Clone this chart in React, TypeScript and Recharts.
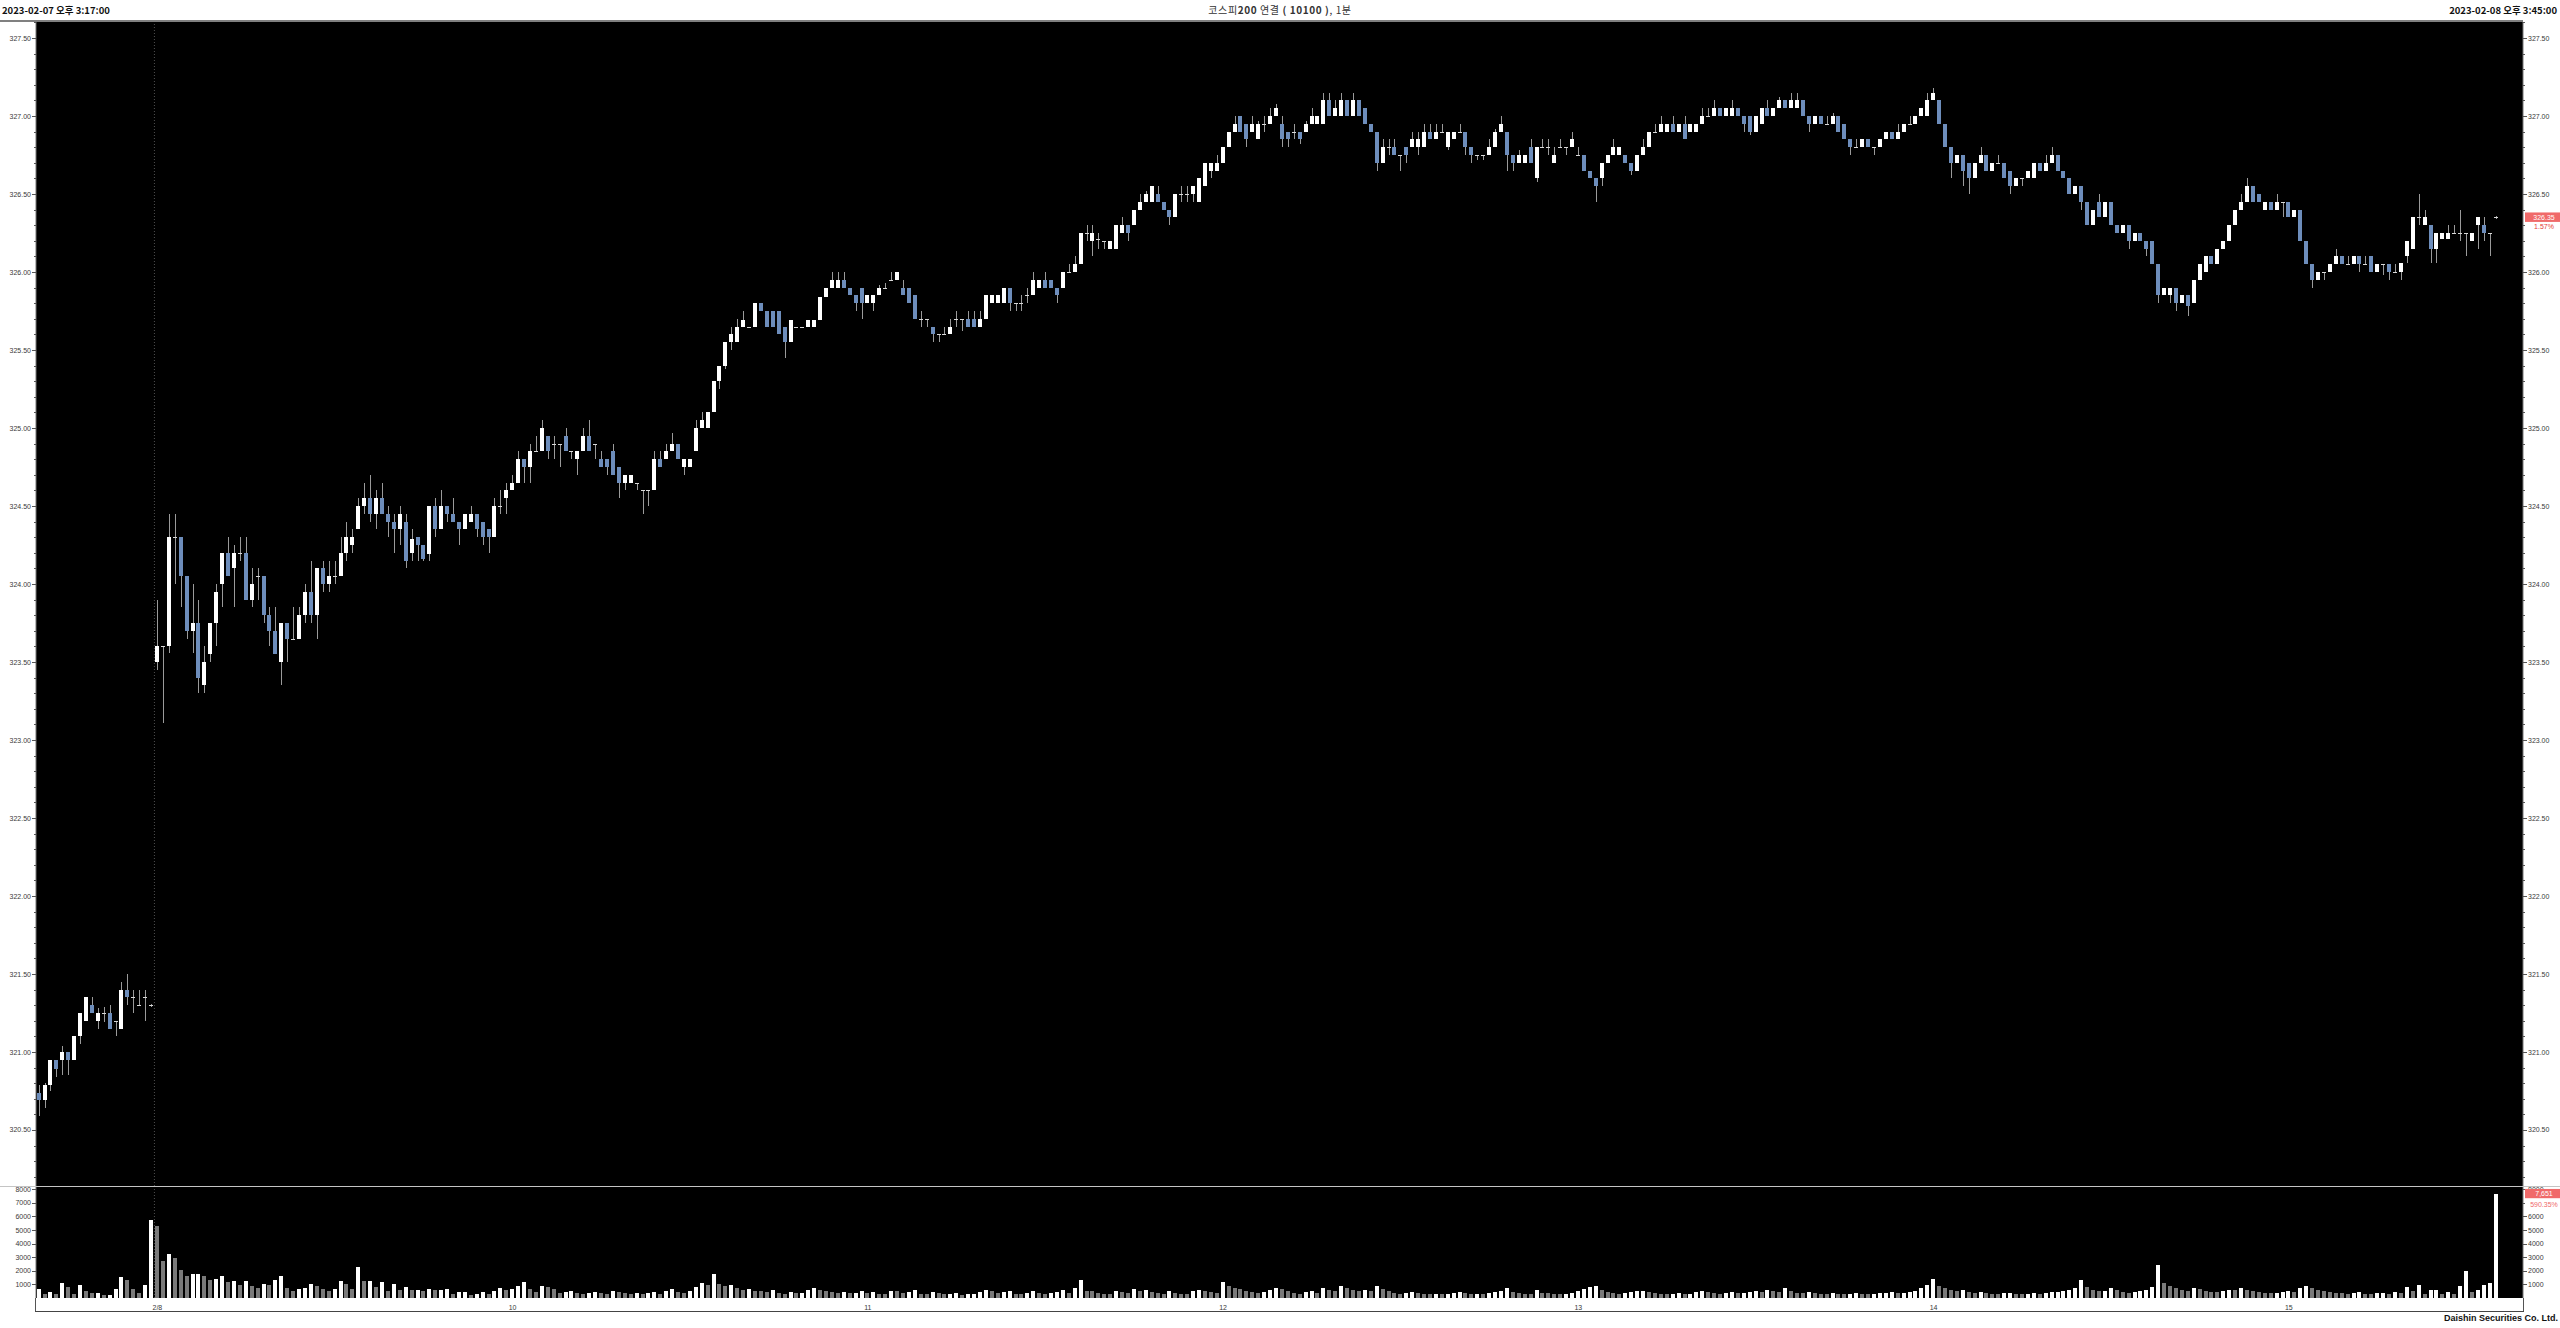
import React from "react";
import { ComposedChart, Bar, XAxis, YAxis, CartesianGrid, ReferenceLine } from "recharts";

type OHLC = [number, number, number, number]; // open, high, low, close

// 2/7 15:17 ~ 15:35 + 15:45 close
const feb07: OHLC[] = [
  [320.74, 320.79, 320.59, 320.69], [320.69, 320.8, 320.64, 320.79], [320.79, 320.95, 320.75, 320.95], [320.95, 320.95, 320.84, 320.89], [320.95, 321.04, 320.85, 321.0],
  [321.0, 321.0, 320.85, 320.95], [320.95, 321.1, 320.95, 321.1], [321.1, 321.25, 321.05, 321.25], [321.2, 321.35, 321.2, 321.35], [321.3, 321.35, 321.25, 321.25],
  [321.2, 321.28, 321.15, 321.25], [321.25, 321.29, 321.19, 321.25], [321.25, 321.3, 321.15, 321.15], [321.2, 321.2, 321.1, 321.2], [321.15, 321.45, 321.15, 321.4],
  [321.4, 321.5, 321.3, 321.35], [321.35, 321.4, 321.25, 321.35], [321.3, 321.4, 321.3, 321.3], [321.35, 321.4, 321.2, 321.35], [321.3, 321.31, 321.29, 321.3],
];
const feb07Vol = [640, 300, 440, 300, 1130, 780, 300, 930, 490, 390, 390, 245, 250, 690, 1570, 1320, 690, 390, 980, 5700];

// 2/8 09:00 ~ 09:59
const feb08h09: OHLC[] = [
  [323.5, 323.9, 323.45, 323.6], [323.6, 323.6, 323.11, 323.6], [323.6, 324.45, 323.56, 324.3], [324.3, 324.45, 324.0, 324.3], [324.3, 324.3, 323.85, 324.05],
  [324.05, 324.05, 323.65, 323.7], [323.7, 324.0, 323.56, 323.75], [323.75, 323.9, 323.3, 323.4], [323.35, 323.6, 323.3, 323.5], [323.55, 323.75, 323.5, 323.75],
  [323.75, 324.0, 323.6, 323.95], [324.0, 324.2, 323.85, 324.2], [324.2, 324.3, 324.05, 324.05], [324.1, 324.25, 323.85, 324.2], [324.2, 324.3, 324.15, 324.2],
  [324.2, 324.3, 323.9, 323.9], [323.9, 324.1, 323.85, 324.0], [324.05, 324.1, 323.9, 324.05], [324.05, 324.05, 323.75, 323.8], [323.8, 323.85, 323.6, 323.7],
  [323.7, 323.85, 323.55, 323.55], [323.5, 323.75, 323.35, 323.75], [323.75, 323.75, 323.5, 323.65], [323.65, 323.85, 323.65, 323.65], [323.65, 323.85, 323.65, 323.8],
  [323.8, 324.0, 323.75, 323.95], [323.95, 324.15, 323.75, 323.8], [323.8, 324.1, 323.65, 324.1], [324.1, 324.15, 323.95, 324.0], [324.0, 324.15, 323.95, 324.05],
  [324.05, 324.15, 324.0, 324.05], [324.05, 324.3, 324.05, 324.2], [324.2, 324.4, 324.15, 324.3], [324.25, 324.35, 324.2, 324.3], [324.35, 324.55, 324.35, 324.5],
  [324.5, 324.65, 324.45, 324.55], [324.55, 324.7, 324.4, 324.45], [324.45, 324.6, 324.35, 324.55], [324.55, 324.65, 324.45, 324.45], [324.45, 324.5, 324.3, 324.4],
  [324.4, 324.45, 324.2, 324.35], [324.35, 324.5, 324.25, 324.45], [324.4, 324.45, 324.1, 324.15], [324.2, 324.35, 324.15, 324.29], [324.3, 324.3, 324.15, 324.25],
  [324.25, 324.25, 324.15, 324.16], [324.19, 324.5, 324.15, 324.5], [324.5, 324.55, 324.3, 324.35], [324.35, 324.6, 324.35, 324.5], [324.5, 324.5, 324.4, 324.45],
  [324.45, 324.55, 324.4, 324.4], [324.4, 324.4, 324.25, 324.35], [324.35, 324.45, 324.35, 324.45], [324.4, 324.5, 324.4, 324.45], [324.45, 324.45, 324.3, 324.35],
  [324.4, 324.4, 324.25, 324.3], [324.35, 324.35, 324.2, 324.3], [324.3, 324.55, 324.3, 324.5], [324.5, 324.6, 324.45, 324.5], [324.55, 324.65, 324.45, 324.6],
];
// 10:00 ~ 10:59
const feb08h10: OHLC[] = [
  [324.6, 324.7, 324.6, 324.65], [324.65, 324.85, 324.65, 324.8], [324.8, 324.8, 324.65, 324.75], [324.75, 324.9, 324.65, 324.85], [324.85, 324.95, 324.85, 324.85],
  [324.85, 325.05, 324.85, 325.0], [324.95, 324.95, 324.8, 324.85], [324.9, 324.95, 324.8, 324.9], [324.9, 324.9, 324.75, 324.9], [324.95, 325.0, 324.85, 324.85],
  [324.85, 324.85, 324.8, 324.85], [324.8, 324.85, 324.7, 324.85], [324.85, 325.0, 324.85, 324.95], [324.95, 325.05, 324.85, 324.85], [324.9, 324.9, 324.8, 324.9],
  [324.8, 324.85, 324.75, 324.75], [324.8, 324.8, 324.7, 324.75], [324.85, 324.9, 324.7, 324.7], [324.75, 324.75, 324.55, 324.65], [324.65, 324.7, 324.6, 324.7],
  [324.65, 324.7, 324.65, 324.7], [324.65, 324.65, 324.6, 324.65], [324.6, 324.6, 324.45, 324.6], [324.6, 324.6, 324.5, 324.6], [324.6, 324.85, 324.6, 324.8],
  [324.8, 324.85, 324.75, 324.75], [324.8, 324.9, 324.8, 324.85], [324.85, 324.97, 324.85, 324.9], [324.9, 324.9, 324.8, 324.8], [324.75, 324.8, 324.7, 324.8],
  [324.75, 324.8, 324.75, 324.8], [324.85, 325.05, 324.85, 325.0], [325.0, 325.1, 325.0, 325.05], [325.0, 325.1, 325.0, 325.1], [325.1, 325.3, 325.1, 325.3],
  [325.3, 325.4, 325.25, 325.4], [325.4, 325.55, 325.38, 325.55], [325.55, 325.65, 325.5, 325.6], [325.55, 325.7, 325.55, 325.65], [325.65, 325.75, 325.65, 325.69],
  [325.65, 325.65, 325.65, 325.65], [325.65, 325.8, 325.65, 325.8], [325.8, 325.8, 325.75, 325.75], [325.75, 325.75, 325.65, 325.65], [325.75, 325.75, 325.65, 325.65],
  [325.75, 325.75, 325.6, 325.6], [325.65, 325.65, 325.45, 325.55], [325.55, 325.69, 325.55, 325.69], [325.65, 325.65, 325.65, 325.65], [325.65, 325.65, 325.65, 325.65],
  [325.65, 325.69, 325.65, 325.69], [325.65, 325.69, 325.65, 325.69], [325.69, 325.84, 325.69, 325.84], [325.84, 325.9, 325.84, 325.9], [325.9, 326.0, 325.9, 325.95],
  [325.9, 326.0, 325.9, 325.95], [325.95, 326.0, 325.9, 325.9], [325.9, 325.9, 325.85, 325.85], [325.85, 325.85, 325.75, 325.8], [325.9, 325.9, 325.7, 325.8],
];
// 11:00 ~ 11:59
const feb08h11: OHLC[] = [
  [325.8, 325.85, 325.8, 325.85], [325.8, 325.85, 325.75, 325.85], [325.85, 325.92, 325.85, 325.9], [325.9, 325.93, 325.9, 325.9], [325.95, 326.0, 325.95, 325.95],
  [325.95, 326.0, 325.95, 326.0], [325.9, 325.95, 325.85, 325.85], [325.9, 325.9, 325.8, 325.8], [325.85, 325.85, 325.7, 325.7], [325.7, 325.75, 325.65, 325.7],
  [325.7, 325.7, 325.65, 325.7], [325.65, 325.65, 325.55, 325.6], [325.6, 325.6, 325.55, 325.6], [325.6, 325.65, 325.6, 325.6], [325.6, 325.7, 325.6, 325.65],
  [325.7, 325.75, 325.65, 325.7], [325.7, 325.7, 325.62, 325.7], [325.7, 325.75, 325.65, 325.65], [325.7, 325.75, 325.65, 325.65], [325.65, 325.75, 325.65, 325.7],
  [325.7, 325.85, 325.7, 325.85], [325.8, 325.85, 325.8, 325.85], [325.8, 325.85, 325.8, 325.85], [325.8, 325.9, 325.8, 325.9], [325.9, 325.9, 325.75, 325.8],
  [325.8, 325.8, 325.75, 325.8], [325.8, 325.85, 325.75, 325.8], [325.85, 325.9, 325.8, 325.85], [325.85, 326.0, 325.85, 325.95], [325.9, 325.95, 325.9, 325.95],
  [325.95, 326.0, 325.9, 325.9], [325.95, 325.95, 325.9, 325.9], [325.9, 325.9, 325.8, 325.85], [325.9, 326.0, 325.9, 326.0], [326.0, 326.05, 326.0, 326.0],
  [326.0, 326.1, 326.0, 326.05], [326.05, 326.25, 326.05, 326.25], [326.25, 326.3, 326.2, 326.25], [326.2, 326.3, 326.1, 326.25], [326.21, 326.25, 326.15, 326.21],
  [326.2, 326.2, 326.15, 326.2], [326.15, 326.2, 326.15, 326.2], [326.15, 326.3, 326.15, 326.3], [326.25, 326.35, 326.25, 326.3], [326.3, 326.3, 326.2, 326.25],
  [326.3, 326.4, 326.3, 326.4], [326.4, 326.5, 326.4, 326.45], [326.45, 326.52, 326.45, 326.5], [326.45, 326.55, 326.45, 326.55], [326.5, 326.55, 326.45, 326.45],
  [326.45, 326.45, 326.4, 326.4], [326.4, 326.4, 326.3, 326.35], [326.35, 326.5, 326.35, 326.5], [326.5, 326.55, 326.45, 326.5], [326.5, 326.55, 326.45, 326.5],
  [326.5, 326.55, 326.45, 326.55], [326.45, 326.6, 326.45, 326.6], [326.55, 326.7, 326.55, 326.7], [326.65, 326.7, 326.6, 326.7], [326.65, 326.75, 326.65, 326.7],
];
// 12:00 ~ 12:59
const feb08h12: OHLC[] = [
  [326.7, 326.8, 326.7, 326.8], [326.8, 326.9, 326.8, 326.9], [326.9, 327.0, 326.9, 326.95], [327.0, 327.0, 326.9, 326.9], [326.95, 326.95, 326.8, 326.85],
  [326.9, 327.0, 326.9, 326.95], [326.85, 326.97, 326.85, 326.95], [326.95, 327.0, 326.9, 326.95], [326.95, 327.05, 326.95, 327.0], [327.0, 327.08, 327.0, 327.05],
  [326.95, 327.0, 326.8, 326.85], [326.9, 326.9, 326.8, 326.85], [326.9, 326.95, 326.85, 326.9], [326.9, 326.9, 326.82, 326.85], [326.9, 326.97, 326.9, 326.95],
  [326.95, 327.05, 326.95, 327.0], [326.95, 327.0, 326.95, 327.0], [326.95, 327.15, 326.95, 327.1], [327.1, 327.15, 327.0, 327.0], [327.0, 327.1, 327.0, 327.05],
  [327.0, 327.15, 327.0, 327.1], [327.1, 327.1, 327.0, 327.0], [327.0, 327.15, 327.0, 327.1], [327.1, 327.1, 327.0, 327.0], [327.05, 327.05, 326.95, 326.95],
  [326.95, 326.95, 326.9, 326.9], [326.9, 326.9, 326.65, 326.7], [326.7, 326.85, 326.7, 326.8], [326.8, 326.85, 326.75, 326.8], [326.8, 326.85, 326.75, 326.75],
  [326.75, 326.75, 326.65, 326.75], [326.8, 326.8, 326.7, 326.75], [326.8, 326.9, 326.8, 326.85], [326.8, 326.9, 326.75, 326.85], [326.8, 326.95, 326.8, 326.9],
  [326.9, 326.95, 326.85, 326.85], [326.85, 326.95, 326.85, 326.9], [326.9, 326.95, 326.9, 326.9], [326.8, 326.9, 326.78, 326.9], [326.85, 326.9, 326.85, 326.9],
  [326.9, 326.95, 326.9, 326.9], [326.9, 326.9, 326.75, 326.8], [326.8, 326.8, 326.7, 326.75], [326.75, 326.75, 326.72, 326.75], [326.75, 326.75, 326.72, 326.75],
  [326.75, 326.85, 326.75, 326.8], [326.8, 326.92, 326.8, 326.9], [326.9, 327.0, 326.9, 326.95], [326.9, 326.9, 326.65, 326.75], [326.75, 326.75, 326.65, 326.7],
  [326.7, 326.78, 326.7, 326.75], [326.7, 326.75, 326.7, 326.75], [326.8, 326.85, 326.7, 326.7], [326.6, 326.8, 326.58, 326.8], [326.8, 326.85, 326.8, 326.8],
  [326.8, 326.85, 326.75, 326.8], [326.7, 326.8, 326.7, 326.75], [326.8, 326.85, 326.8, 326.8], [326.8, 326.8, 326.75, 326.8], [326.8, 326.9, 326.8, 326.85],
];
// 13:00 ~ 13:59
const feb08h13: OHLC[] = [
  [326.75, 326.8, 326.75, 326.75], [326.75, 326.75, 326.65, 326.65], [326.65, 326.65, 326.6, 326.6], [326.6, 326.6, 326.45, 326.55], [326.6, 326.7, 326.55, 326.7],
  [326.7, 326.75, 326.7, 326.75], [326.75, 326.85, 326.75, 326.8], [326.75, 326.8, 326.75, 326.8], [326.75, 326.75, 326.7, 326.7], [326.7, 326.7, 326.62, 326.65],
  [326.65, 326.75, 326.65, 326.75], [326.75, 326.85, 326.75, 326.8], [326.8, 326.9, 326.8, 326.9], [326.9, 326.95, 326.9, 326.9], [326.9, 327.0, 326.9, 326.95],
  [326.9, 326.95, 326.9, 326.95], [326.95, 327.0, 326.9, 326.9], [326.9, 326.95, 326.9, 326.95], [326.95, 327.0, 326.85, 326.85], [326.9, 326.95, 326.9, 326.95],
  [326.9, 326.95, 326.9, 326.95], [326.95, 327.05, 326.95, 327.0], [327.0, 327.05, 327.0, 327.0], [327.0, 327.1, 327.0, 327.05], [327.05, 327.05, 327.0, 327.0],
  [327.0, 327.05, 327.0, 327.05], [327.0, 327.1, 327.0, 327.05], [327.05, 327.05, 327.0, 327.0], [327.0, 327.0, 326.9, 326.95], [327.0, 327.0, 326.88, 326.9],
  [326.9, 327.0, 326.9, 327.0], [326.95, 327.05, 326.95, 327.05], [327.05, 327.1, 327.0, 327.0], [327.0, 327.05, 327.0, 327.05], [327.05, 327.12, 327.05, 327.1],
  [327.1, 327.1, 327.05, 327.05], [327.05, 327.15, 327.05, 327.1], [327.05, 327.15, 327.05, 327.1], [327.1, 327.1, 327.0, 327.0], [327.0, 327.0, 326.9, 326.95],
  [326.95, 327.0, 326.95, 327.0], [327.0, 327.0, 326.95, 326.95], [326.95, 327.0, 326.95, 326.95], [326.95, 327.02, 326.95, 327.0], [327.0, 327.0, 326.9, 326.9],
  [326.95, 326.95, 326.85, 326.85], [326.85, 326.85, 326.75, 326.8], [326.8, 326.85, 326.8, 326.8], [326.8, 326.85, 326.8, 326.85], [326.85, 326.85, 326.8, 326.8],
  [326.8, 326.8, 326.75, 326.8], [326.8, 326.85, 326.8, 326.85], [326.85, 326.9, 326.85, 326.9], [326.9, 326.9, 326.85, 326.85], [326.85, 326.95, 326.85, 326.9],
  [326.9, 326.95, 326.9, 326.95], [326.95, 327.0, 326.95, 326.95], [326.95, 327.0, 326.95, 327.0], [327.0, 327.05, 327.0, 327.05], [327.0, 327.15, 327.0, 327.1],
];
// 14:00 ~ 14:59
const feb08h14: OHLC[] = [
  [327.1, 327.18, 327.1, 327.15], [327.1, 327.1, 326.95, 326.95], [326.95, 326.95, 326.8, 326.8], [326.8, 326.8, 326.6, 326.7], [326.7, 326.75, 326.7, 326.75],
  [326.75, 326.75, 326.55, 326.65], [326.7, 326.7, 326.5, 326.6], [326.6, 326.7, 326.6, 326.7], [326.7, 326.8, 326.7, 326.75], [326.75, 326.75, 326.65, 326.65],
  [326.65, 326.7, 326.65, 326.7], [326.7, 326.75, 326.7, 326.7], [326.7, 326.7, 326.6, 326.6], [326.65, 326.65, 326.5, 326.55], [326.55, 326.6, 326.55, 326.6],
  [326.6, 326.6, 326.55, 326.6], [326.6, 326.65, 326.6, 326.65], [326.6, 326.7, 326.6, 326.7], [326.7, 326.7, 326.65, 326.65], [326.65, 326.75, 326.65, 326.7],
  [326.7, 326.8, 326.7, 326.75], [326.75, 326.75, 326.65, 326.65], [326.65, 326.65, 326.6, 326.6], [326.6, 326.6, 326.5, 326.5], [326.5, 326.55, 326.5, 326.55],
  [326.55, 326.55, 326.4, 326.45], [326.45, 326.45, 326.3, 326.3], [326.3, 326.4, 326.3, 326.4], [326.45, 326.5, 326.35, 326.35], [326.35, 326.45, 326.35, 326.45],
  [326.45, 326.45, 326.3, 326.3], [326.3, 326.3, 326.25, 326.25], [326.25, 326.3, 326.25, 326.3], [326.3, 326.3, 326.15, 326.2], [326.2, 326.25, 326.2, 326.25],
  [326.25, 326.25, 326.2, 326.2], [326.2, 326.2, 326.1, 326.15], [326.2, 326.2, 326.05, 326.05], [326.05, 326.05, 325.8, 325.85], [325.85, 325.9, 325.85, 325.9],
  [325.85, 325.9, 325.8, 325.9], [325.9, 325.9, 325.75, 325.8], [325.8, 325.85, 325.8, 325.85], [325.85, 325.85, 325.72, 325.78], [325.8, 325.95, 325.8, 325.95],
  [325.95, 326.05, 325.95, 326.05], [326.0, 326.1, 326.0, 326.1], [326.1, 326.1, 326.05, 326.05], [326.05, 326.15, 326.05, 326.15], [326.15, 326.2, 326.15, 326.2],
  [326.2, 326.3, 326.2, 326.3], [326.3, 326.4, 326.3, 326.4], [326.4, 326.5, 326.4, 326.45], [326.45, 326.6, 326.45, 326.55], [326.55, 326.55, 326.45, 326.45],
  [326.5, 326.5, 326.45, 326.45], [326.4, 326.45, 326.4, 326.45], [326.45, 326.45, 326.4, 326.4], [326.4, 326.5, 326.4, 326.45], [326.45, 326.45, 326.35, 326.45],
];
// 15:00 ~ 15:34 + 15:45 close
const feb08h15: OHLC[] = [
  [326.45, 326.45, 326.35, 326.35], [326.35, 326.4, 326.35, 326.4], [326.4, 326.4, 326.2, 326.2], [326.2, 326.2, 326.05, 326.05], [326.05, 326.05, 325.9, 325.95],
  [325.95, 326.0, 325.95, 326.0], [326.0, 326.0, 325.95, 326.0], [326.0, 326.05, 326.0, 326.05], [326.05, 326.15, 326.05, 326.1], [326.1, 326.1, 326.05, 326.05],
  [326.05, 326.1, 326.05, 326.05], [326.05, 326.1, 326.05, 326.1], [326.1, 326.1, 326.0, 326.05], [326.05, 326.1, 326.05, 326.05], [326.1, 326.1, 326.0, 326.0],
  [326.0, 326.05, 326.0, 326.05], [326.05, 326.05, 325.98, 326.05], [326.05, 326.05, 325.95, 326.0], [326.0, 326.05, 326.0, 326.0], [326.0, 326.06, 325.95, 326.06],
  [326.1, 326.2, 326.06, 326.2], [326.15, 326.35, 326.15, 326.35], [326.35, 326.5, 326.3, 326.35], [326.3, 326.4, 326.3, 326.35], [326.3, 326.3, 326.06, 326.15],
  [326.15, 326.25, 326.06, 326.25], [326.21, 326.25, 326.21, 326.25], [326.21, 326.3, 326.21, 326.25], [326.25, 326.3, 326.25, 326.25], [326.25, 326.4, 326.2, 326.25],
  [326.25, 326.25, 326.1, 326.25], [326.2, 326.25, 326.2, 326.25], [326.3, 326.35, 326.15, 326.35], [326.3, 326.35, 326.2, 326.25], [326.25, 326.25, 326.1, 326.25],
  [326.35, 326.36, 326.34, 326.35],
];

const vol08h09 = [5330, 2730, 3220, 2920, 2040, 1620, 1790, 1790, 1650, 1330, 1380, 1600, 1150, 1250, 930, 1250, 910, 710, 1060, 930,
  1300, 1650, 760, 490, 640, 760, 1060, 860, 640, 520, 660, 1230, 1060, 640, 2260, 1250, 1250, 810, 1200, 540,
  1010, 610, 790, 570, 570, 520, 660, 610, 610, 640, 270, 470, 470, 200, 270, 420, 320, 520, 710, 570];
const vol08h10 = [640, 910, 1200, 660, 420, 880, 840, 640, 370, 420, 490, 340, 270, 340, 420, 380, 300, 520, 450, 400,
  300, 360, 280, 350, 420, 300, 520, 640, 460, 380, 500, 820, 1100, 980, 1800, 1050, 900, 980, 700, 600,
  640, 520, 480, 420, 560, 380, 300, 420, 350, 380, 620, 720, 560, 480, 420, 380, 450, 360, 400, 520];
const vol08h11 = [380, 450, 320, 300, 520, 480, 360, 420, 560, 300, 280, 460, 350, 260, 300, 380, 240, 280, 330, 420,
  620, 480, 350, 440, 520, 300, 280, 340, 500, 380, 300, 360, 420, 560, 380, 700, 1300, 520, 480, 360,
  300, 280, 500, 420, 380, 640, 520, 560, 420, 380, 300, 520, 360, 300, 280, 480, 620, 540, 420, 380];
const vol08h12 = [1200, 880, 760, 640, 520, 460, 380, 420, 560, 700, 640, 480, 360, 300, 420, 500, 380, 760, 620, 540,
  860, 700, 560, 480, 620, 520, 900, 640, 480, 380, 300, 350, 420, 380, 300, 260, 320, 280, 300, 380,
  420, 340, 280, 300, 260, 380, 460, 520, 700, 460, 380, 320, 280, 600, 380, 340, 300, 260, 320, 380];
const vol08h13 = [520, 640, 820, 900, 560, 420, 380, 300, 360, 420, 480, 520, 440, 380, 300, 260, 300, 340, 280, 300,
  420, 520, 460, 380, 300, 360, 420, 340, 380, 460, 500, 420, 600, 520, 460, 700, 480, 400, 360, 420,
  380, 300, 280, 340, 300, 260, 320, 380, 300, 260, 300, 340, 380, 420, 360, 400, 460, 520, 700, 980];
const vol08h14 = [1400, 900, 760, 620, 500, 580, 460, 380, 420, 360, 300, 280, 340, 400, 320, 260, 300, 340, 280, 360,
  420, 460, 520, 600, 700, 1300, 820, 600, 480, 520, 700, 560, 420, 380, 460, 520, 600, 780, 2400, 1100,
  860, 700, 620, 540, 760, 640, 520, 460, 420, 520, 600, 560, 700, 620, 480, 420, 380, 340, 400, 460];
const vol08h15 = [520, 460, 700, 860, 740, 560, 480, 420, 380, 340, 300, 360, 420, 300, 280, 340, 380, 300, 420,
  360, 830, 550, 930, 310, 600, 600, 310, 450, 260, 880, 2020, 450, 600, 930, 1108, 7651];

const priceTicks = [320.5, 321.0, 321.5, 322.0, 322.5, 323.0, 323.5, 324.0, 324.5, 325.0, 325.5, 326.0, 326.5, 327.0, 327.5];
const volTicks = [1000, 2000, 3000, 4000, 5000, 6000, 7000, 8000];
const hourTicks = ["09:00", "10:00", "11:00", "12:00", "13:00", "14:00", "15:00"];
const hourLabels = ["2/8", "10", "11", "12", "13", "14", "15"];
const volChangeText = "590.35%";

const PRICE_DOMAIN: [number, number] = [320.141, 327.603];
const VOL_DOMAIN: [number, number] = [0, 8162];

const UP = "#ffffff";
const DOWN = "#6d8dbb";
const WICK = "#9a9a9a";
const DOJI = "#d8d8d8";
const VOL_UP = "#ffffff";
const VOL_DOWN = "#7a7a7a";
const AXIS_TEXT = "#3a3a3a";
const KR = "'Noto Sans CJK KR', 'Noto Sans', sans-serif";
const SANS = "'Liberation Sans', Arial, sans-serif";

type Row = { t: string; o: number; h: number; l: number; c: number; v: number; volUp: boolean };

function minuteLabels(h: number, m: number, n: number) {
  // n-1 one-minute bars, then the 15:45 closing bar
  const out: string[] = [];
  for (let i = 0; i < n - 1; i++) {
    const mm = h * 60 + m + i;
    out.push(`${String(Math.floor(mm / 60)).padStart(2, "0")}:${String(mm % 60).padStart(2, "0")}`);
  }
  out.push("15:45");
  return out;
}

const feb08 = [...feb08h09, ...feb08h10, ...feb08h11, ...feb08h12, ...feb08h13, ...feb08h14, ...feb08h15];
const feb08Vol = [...vol08h09, ...vol08h10, ...vol08h11, ...vol08h12, ...vol08h13, ...vol08h14, ...vol08h15];

const rows: Row[] = [];
[
  { day: "02/07", bars: feb07, vols: feb07Vol, times: minuteLabels(15, 17, feb07.length) },
  { day: "02/08", bars: feb08, vols: feb08Vol, times: minuteLabels(9, 0, feb08.length) },
].forEach((s) => {
  s.bars.forEach(([o, h, l, c], i) => {
    const v = s.vols[i];
    const prev = rows.length ? rows[rows.length - 1].v : 0;
    rows.push({ t: `${s.day} ${s.times[i]}`, o, h, l, c, v, volUp: v >= prev });
  });
});

const lastBar = rows[rows.length - 1];
const prevClose = feb07[feb07.length - 1][3];
const priceChange = `${((lastBar.c / prevClose - 1) * 100).toFixed(2)}%`;

const span = (d: Row): [number, number] => (d.h > d.l ? [d.l, d.h] : [d.l - 0.001, d.h + 0.001]);

function Candle(props: any) {
  const { x, y, width, height, payload } = props;
  if (!payload || payload.o == null) return null;
  const [lo, hi] = span(payload);
  const k = height / (hi - lo);
  const py = (v: number) => y + (hi - v) * k;
  const cx = Math.floor(x + width / 2) + 0.5;
  const { o, h, l, c } = payload;
  const top = Math.round(py(Math.max(o, c)));
  const bot = Math.round(py(Math.min(o, c)));
  return (
    <g shapeRendering="crispEdges">
      <line x1={cx} x2={cx} y1={py(h)} y2={py(l)} stroke={WICK} strokeWidth={1} />
      {o === c ? (
        <line x1={cx - 2.5} x2={cx + 1.5} y1={top + 0.5} y2={top + 0.5} stroke={DOJI} strokeWidth={1} />
      ) : (
        <rect x={cx - 2.5} y={top} width={4} height={Math.max(1, bot - top)} fill={c > o ? UP : DOWN} />
      )}
    </g>
  );
}

function VolBar(props: any) {
  const { x, y, width, height, payload } = props;
  const cx = Math.floor(x + width / 2);
  return (
    <rect shapeRendering="crispEdges" x={cx - 2} y={Math.round(y)} width={4} height={Math.max(0, Math.round(y + height) - Math.round(y))}
      fill={payload.volUp ? VOL_UP : VOL_DOWN} />
  );
}

const isMajor = (v: number, majors: number[]) => majors.some((m) => Math.abs(m - v) < 1e-6);

// last-value tag; labels just below it (within `covers`, in axis units) sit under the tag and are not drawn
type TagSpec = { value: number; text: string; sub: string; subColor: string; dy: number; covers: number };

// Tick renderer; the last-value tag is passed as an extra tick so it is drawn over the other labels.
function makeTick(side: "left" | "right", majors: number[], fmt: (v: number) => string, tag?: TagSpec) {
  return (props: any) => {
    const { x, y, payload } = props;
    const v = payload.value as number;
    if (tag && v === tag.value) {
      return (
        <g>
          <rect x={x + 2} y={y - 5} width={35} height={9.5} fill="#f06a6a" />
          <text x={x + 21} y={y + 2.5} textAnchor="middle" fontSize={7} fontFamily={SANS} fill="#ffffff">{tag.text}</text>
          <rect x={x + 2} y={y + 4.5} width={35} height={10} fill="#ffffff" />
          <text x={x + 21} y={y + tag.dy} textAnchor="middle" fontSize={7} fontFamily={SANS} fill={tag.subColor}>{tag.sub}</text>
        </g>
      );
    }
    const hidden = !!tag && v < tag.value && tag.value - v < tag.covers;
    const major = isMajor(v, majors);
    const dir = side === "left" ? -1 : 1;
    const len = major ? 4 : 2;
    return (
      <g>
        <line x1={x} x2={x + dir * len} y1={Math.round(y) + 0.5} y2={Math.round(y) + 0.5} stroke="#555" shapeRendering="crispEdges" />
        {major && !hidden && (
          <text x={x + dir * 5} y={y + 2.5} textAnchor={side === "left" ? "end" : "start"} fontSize={7} fontFamily={SANS} fill={AXIS_TEXT}>
            {fmt(v)}
          </text>
        )}
      </g>
    );
  };
}

const priceAllTicks: number[] = [];
for (let i = Math.ceil(PRICE_DOMAIN[0] * 10); i <= Math.floor(PRICE_DOMAIN[1] * 10); i++) priceAllTicks.push(i / 10);

const fmtPrice = (v: number) => v.toFixed(2);
const fmtVol = (v: number) => String(v);

const priceTag: TagSpec = { value: lastBar.c, text: lastBar.c.toFixed(2), sub: priceChange, subColor: "#e53935", dy: 12, covers: 0.09 };
const volTag: TagSpec = { value: lastBar.v, text: lastBar.v.toLocaleString("en-US"), sub: volChangeText, subColor: "#ef6a6a", dy: 13, covers: 1100 };

function XTick(props: any) {
  const { x, y, payload } = props;
  const idx = hourTicks.indexOf(String(payload.value).slice(6));
  return (
    <text x={x} y={y + 12} textAnchor="middle" fontSize={7} fontFamily={SANS} fill={AXIS_TEXT}>
      {hourLabels[idx]}
    </text>
  );
}

const X_PAD = { left: 0, right: 24 };
const dayStart = "02/08 09:00";

export default function App() {
  return (
    <div style={{ position: "absolute", left: 0, top: 0, width: 2560, height: 1328, background: "#fff", overflow: "hidden" }}>
      <div style={{ position: "absolute", left: 2, top: 4, fontSize: 9.5, lineHeight: "12px", fontWeight: 700, fontFamily: KR, color: "#111", whiteSpace: "nowrap" }}>
        2023-02-07 오후 3:17:00
      </div>
      <div style={{ position: "absolute", left: 1080, width: 400, top: 4, textAlign: "center", fontSize: 10, lineHeight: "12px", letterSpacing: 0.6, fontFamily: KR, color: "#333", whiteSpace: "nowrap" }}>
        코스피<b>200</b> 연결 <b>( 10100 )</b>, 1분
      </div>
      <div style={{ position: "absolute", right: 3, top: 4, fontSize: 9.5, lineHeight: "12px", fontWeight: 700, fontFamily: KR, color: "#111", whiteSpace: "nowrap" }}>
        2023-02-08 오후 3:45:00
      </div>
      <div style={{ position: "absolute", left: 0, top: 20, width: 2523, height: 2, background: "#808080" }} />

      <div style={{ position: "absolute", left: 0, top: 0 }}>
        <ComposedChart width={2560} height={1186} data={rows} margin={{ top: 22, right: 0, bottom: 0, left: 0 }}>
          <CartesianGrid yAxisId="L" horizontal={false} vertical={false} fill="#000" stroke="none" />
          <XAxis dataKey="t" hide padding={X_PAD} />
          <YAxis yAxisId="L" width={36} domain={PRICE_DOMAIN} allowDataOverflow ticks={priceAllTicks} interval={0}
            tickSize={0} tickMargin={0} axisLine={{ stroke: "#777" }} tick={makeTick("left", priceTicks, fmtPrice)} />
          <YAxis yAxisId="R" orientation="right" width={37} domain={PRICE_DOMAIN} allowDataOverflow ticks={[...priceAllTicks, priceTag.value]} interval={0}
            tickSize={0} tickMargin={0} axisLine={{ stroke: "#777" }} tick={makeTick("right", priceTicks, fmtPrice, priceTag)} />
          <ReferenceLine yAxisId="L" x={dayStart} position="start" stroke="#505050" strokeDasharray="1 2" />
          <Bar yAxisId="L" dataKey={(d: Row) => span(d)} shape={<Candle />} isAnimationActive={false} />
        </ComposedChart>
      </div>

      <div style={{ position: "absolute", left: 0, top: 1186, width: 2560, height: 1, background: "#c4c4c4" }} />

      <div style={{ position: "absolute", left: 0, top: 1187 }}>
        <ComposedChart width={2560} height={124} data={rows} margin={{ top: 0, right: 0, bottom: 0, left: 0 }}>
          <CartesianGrid yAxisId="VL" horizontal={false} vertical={false} fill="#000" stroke="none" />
          <XAxis dataKey="t" height={13} padding={X_PAD} ticks={hourTicks.map((h) => `02/08 ${h}`)} interval={0}
            axisLine={false} tickLine={false} tickSize={0} tickMargin={0} tick={<XTick />} />
          <YAxis yAxisId="VL" width={36} domain={VOL_DOMAIN} allowDataOverflow ticks={volTicks} interval={0}
            tickSize={0} tickMargin={0} axisLine={{ stroke: "#777" }} tick={makeTick("left", volTicks, fmtVol)} />
          <YAxis yAxisId="VR" orientation="right" width={37} domain={VOL_DOMAIN} allowDataOverflow ticks={[...volTicks, volTag.value]} interval={0}
            tickSize={0} tickMargin={0} axisLine={{ stroke: "#777" }} tick={makeTick("right", volTicks, fmtVol, volTag)} />
          <ReferenceLine yAxisId="VL" x={dayStart} position="start" stroke="#505050" strokeDasharray="1 2" />
          <Bar yAxisId="VL" dataKey="v" shape={<VolBar />} isAnimationActive={false} />
        </ComposedChart>
      </div>

      <div style={{ position: "absolute", left: 35, top: 1298, width: 1, height: 14, background: "#555" }} />
      <div style={{ position: "absolute", left: 2523, top: 1298, width: 1, height: 14, background: "#555" }} />
      <div style={{ position: "absolute", left: 35, top: 1311, width: 2489, height: 1, background: "#444" }} />

      <div style={{ position: "absolute", right: 2, top: 1313, fontSize: 9, lineHeight: "11px", fontWeight: 700, fontFamily: SANS, color: "#111", whiteSpace: "nowrap" }}>
        Daishin Securities Co. Ltd.
      </div>
    </div>
  );
}
